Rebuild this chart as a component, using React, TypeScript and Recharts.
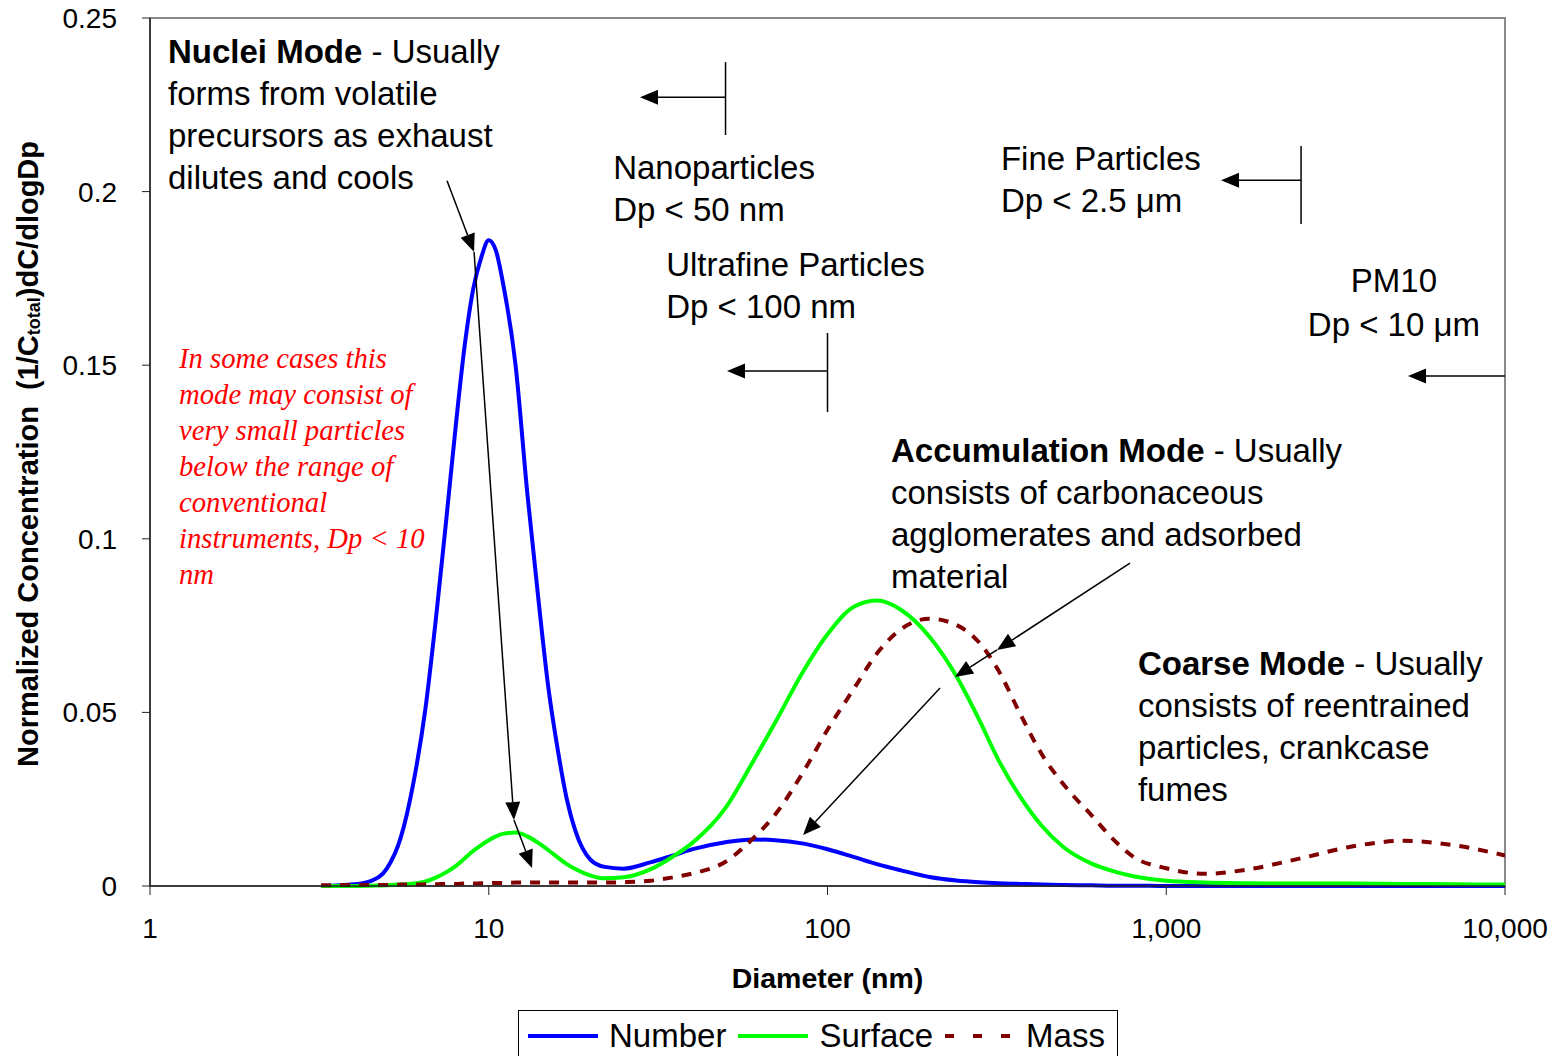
import React from 'react';
import { LineChart, Line, XAxis, YAxis, Legend, ReferenceLine, ReferenceDot, ReferenceArea } from 'recharts';

// diameters in nm
const diameters = [3.2, 4, 4.5, 5, 5.5, 6, 6.5, 7, 7.5, 8, 8.5, 9, 9.5, 10, 10.5, 11, 12, 13, 14, 15, 16, 17, 18, 20, 22, 25, 30, 35, 40, 50, 60, 70, 85, 100, 120, 140, 165, 200, 240, 280, 320, 370, 430, 500, 600, 700, 800, 1000, 1300, 1700, 2500, 3500, 5000, 7000, 10000];
const numberConc = [0, 0.0005, 0.0015, 0.005, 0.014, 0.03, 0.051, 0.078, 0.106, 0.133, 0.156, 0.172, 0.181, 0.186, 0.183, 0.174, 0.15, 0.113, 0.083, 0.057, 0.039, 0.025, 0.016, 0.0075, 0.0055, 0.005, 0.0068, 0.0088, 0.0106, 0.0126, 0.0134, 0.0132, 0.0122, 0.0106, 0.0083, 0.0063, 0.0045, 0.0026, 0.0016, 0.0011, 0.0008, 0.0006, 0.0004, 0.0003, 0.0002, 0.0001, 0.0001, 0, 0, 0, 0, 0, 0, 0, 0];
const surfaceConc = [0, 0, 0.0001, 0.0002, 0.0004, 0.0007, 0.0013, 0.0025, 0.004, 0.0058, 0.008, 0.0101, 0.0118, 0.0132, 0.0143, 0.015, 0.0154, 0.0143, 0.0124, 0.0103, 0.0082, 0.0063, 0.0049, 0.003, 0.0022, 0.0025, 0.0048, 0.0085, 0.0125, 0.0225, 0.0355, 0.047, 0.062, 0.0725, 0.0805, 0.0822, 0.0795, 0.0718, 0.0605, 0.048, 0.0362, 0.0258, 0.0172, 0.011, 0.0065, 0.0042, 0.0028, 0.0015, 0.001, 0.0008, 0.0007, 0.0007, 0.0006, 0.0005, 0.0004];
const massConc = [0.0002, 0.0003, 0.0003, 0.0003, 0.0004, 0.0004, 0.0005, 0.0005, 0.0006, 0.0006, 0.0007, 0.0007, 0.0008, 0.0008, 0.0009, 0.0009, 0.001, 0.001, 0.001, 0.001, 0.001, 0.001, 0.001, 0.001, 0.001, 0.0011, 0.0015, 0.0025, 0.0036, 0.007, 0.0135, 0.0205, 0.033, 0.045, 0.057, 0.067, 0.074, 0.077, 0.0752, 0.0702, 0.062, 0.0497, 0.0378, 0.029, 0.0205, 0.0133, 0.0084, 0.0051, 0.0035, 0.0046, 0.008, 0.0113, 0.013, 0.0118, 0.0088];

const xTicks = [1, 10, 100, 1000, 10000];
const yTicks = [0, 0.05, 0.1, 0.15, 0.2, 0.25];

const series = [
  { key: 'number', name: 'Number', color: '#0000FF', dash: undefined, legendDash: undefined },
  { key: 'surface', name: 'Surface', color: '#00FF00', dash: undefined, legendDash: undefined },
  { key: 'mass', name: 'Mass', color: '#800000', dash: '10 9', legendDash: '9 19' },
];

// text notes, anchored in data coordinates (first-line baseline)
const notes = [
  { x: 1.13, y: 0.237, bold: 'Nuclei Mode', lines: [' - Usually', 'forms from volatile', 'precursors as exhaust', 'dilutes and cools'], red: false, middle: false },
  { x: 1.218, y: 0.1492, bold: '', lines: ['In some cases this', 'mode may consist of', 'very small particles', 'below the range of', 'conventional', 'instruments, Dp < 10', 'nm'], red: true, middle: false },
  { x: 23.3, y: 0.2036, bold: '', lines: ['Nanoparticles', 'Dp < 50 nm'], red: false, middle: false },
  { x: 33.4, y: 0.1757, bold: '', lines: ['Ultrafine Particles', 'Dp < 100 nm'], red: false, middle: false },
  { x: 325, y: 0.2062, bold: '', lines: ['Fine Particles', 'Dp < 2.5 \u03bcm'], red: false, middle: false },
  { x: 4700, y: 0.1711, bold: '', lines: ['PM10', 'Dp < 10 \u03bcm'], red: false, middle: true },
  { x: 154, y: 0.1221, bold: 'Accumulation Mode', lines: [' - Usually', 'consists of carbonaceous', 'agglomerates and adsorbed', 'material'], red: false, middle: false },
  { x: 825, y: 0.0608, bold: 'Coarse Mode', lines: [' - Usually', 'consists of reentrained', 'particles, crankcase', 'fumes'], red: false, middle: false },
];

// arrows: [x1, y1, x2, y2], head at the second point
const arrows = [
  [7.53, 0.2031, 9.05, 0.1826],
  [9.05, 0.1826, 11.87, 0.019],
  [11.87, 0.019, 13.42, 0.0052],
  [50, 0.2272, 27.96, 0.2272],
  [100, 0.1483, 50.5, 0.1483],
  [2500, 0.2033, 1451, 0.2033],
  [10000, 0.1469, 5172, 0.1469],
  [781.6, 0.093, 316.5, 0.068],
  [316.5, 0.068, 237.9, 0.0602],
  [214.9, 0.057, 84.7, 0.0147],
];

// vertical size-limit markers
const limits = [
  [50, 0.2373, 0.2163],
  [100, 0.1593, 0.1365],
  [2500, 0.2131, 0.1907],
];

const data = diameters.map((d, i) => ({
  d,
  number: numberConc[i],
  surface: surfaceConc[i],
  mass: massConc[i],
}));

const SANS = '"Liberation Sans", Arial, sans-serif';
const SERIF = '"Liberation Serif", "Times New Roman", serif';

const Arrow = (p: any) => {
  const { x1, y1, x2, y2 } = p;
  const a = Math.atan2(y2 - y1, x2 - x1);
  const L = 18;
  const W = 7.5;
  const bx = x2 - L * Math.cos(a);
  const by = y2 - L * Math.sin(a);
  const nx = -Math.sin(a) * W;
  const ny = Math.cos(a) * W;
  return (
    <g>
      <line x1={x1} y1={y1} x2={bx} y2={by} stroke="#000" strokeWidth={1.5} />
      <polygon points={`${x2},${y2} ${bx + nx},${by + ny} ${bx - nx},${by - ny}`} fill="#000" />
    </g>
  );
};

const Note = ({ cx, cy, note }: any) => {
  const size = note.red ? 28.7 : 33;
  const step = note.red ? 36 : note.middle ? 44 : 42;
  const x = cx;
  return (
    <text
      x={x}
      y={cy}
      fontFamily={note.red ? SERIF : SANS}
      fontStyle={note.red ? 'italic' : 'normal'}
      fontSize={size}
      fill={note.red ? '#FF0000' : '#000'}
      textAnchor={note.middle ? 'middle' : 'start'}
      style={{ whiteSpace: 'pre' }}
    >
      {note.lines.map((ln: string, i: number) => (
        <tspan key={i} x={x} dy={i === 0 ? 0 : step}>
          {i === 0 && note.bold ? <tspan fontWeight="bold">{note.bold}</tspan> : null}
          {ln}
        </tspan>
      ))}
    </text>
  );
};

const YTitle = ({ viewBox }: any) => {
  const cx = viewBox.x + 28;
  const cy = viewBox.y + viewBox.height / 2 + 2;
  return (
    <text
      x={cx}
      y={cy}
      transform={`rotate(-90 ${cx} ${cy})`}
      textAnchor="middle"
      dominantBaseline="central"
      fontFamily={SANS}
      fontWeight="bold"
      fontSize={29}
      style={{ whiteSpace: 'pre' }}
    >
      {'Normalized Concentration  (1/C'}
      <tspan fontSize={18} dy={6}>total</tspan>
      <tspan dy={-6}>)dC/dlogDp</tspan>
    </text>
  );
};

const XTitle = ({ viewBox }: any) => (
  <text
    x={viewBox.x + viewBox.width / 2}
    y={viewBox.y + 102}
    textAnchor="middle"
    fontFamily={SANS}
    fontWeight="bold"
    fontSize={28.5}
  >
    Diameter (nm)
  </text>
);

const LegendBox = () => (
  <div
    style={{
      display: 'flex',
      alignItems: 'center',
      height: 46,
      boxSizing: 'border-box',
      border: '1px solid #000',
      borderBottom: 'none',
      paddingLeft: 9,
      paddingTop: 4,
      fontFamily: SANS,
      fontSize: 33,
      color: '#000',
    }}
  >
    {series.map((s) => (
      <div key={s.key} style={{ display: 'flex', alignItems: 'center', marginRight: 12 }}>
        <svg width={70} height={10}>
          <line x1={0} y1={5} x2={70} y2={5} stroke={s.color} strokeWidth={4} strokeDasharray={s.legendDash} />
        </svg>
        <span style={{ marginLeft: 11 }}>{s.name}</span>
      </div>
    ))}
  </div>
);

export default function App() {
  return (
    <div style={{ position: 'absolute', left: 0, top: 0, background: '#fff' }}>
      <LineChart width={1554} height={1056} data={data} margin={{ top: 18, right: 49, left: 0, bottom: 0 }}>
        <ReferenceArea x1={1} x2={10000} y1={0} y2={0.25} fill="none" stroke="#8a8a8a" strokeWidth={2} ifOverflow="visible" />
        <XAxis
          dataKey="d"
          type="number"
          scale="log"
          domain={[1, 10000]}
          ticks={xTicks}
          allowDataOverflow
          height={124}
          tickSize={9}
          tickMargin={23}
          tickFormatter={(v: number) => v.toLocaleString('en-US')}
          tick={{ fontFamily: SANS, fontSize: 28, fill: '#000' }}
          axisLine={{ stroke: '#222', strokeWidth: 1.5 }}
          tickLine={{ stroke: '#222' }}
          label={{ content: XTitle }}
        />
        <YAxis
          type="number"
          domain={[0, 0.25]}
          ticks={yTicks}
          width={150}
          tickSize={8}
          tickMargin={25}
          tick={{ fontFamily: SANS, fontSize: 28, fill: '#000' }}
          axisLine={{ stroke: '#222', strokeWidth: 1.5 }}
          tickLine={{ stroke: '#222' }}
          label={{ content: YTitle }}
        />
        <Legend verticalAlign="bottom" wrapperStyle={{ left: 518, width: 600 }} content={LegendBox} />
        {series.map((s) => (
          <Line
            key={s.key}
            dataKey={s.key}
            name={s.name}
            type="monotone"
            stroke={s.color}
            strokeWidth={4}
            strokeDasharray={s.dash}
            dot={false}
            activeDot={false}
            isAnimationActive={false}
          />
        ))}
        {limits.map(([x, ya, yb], i) => (
          <ReferenceLine key={`l${i}`} segment={[{ x, y: ya }, { x, y: yb }]} stroke="#000" strokeWidth={1.5} ifOverflow="visible" />
        ))}
        {arrows.map(([x1, y1, x2, y2], i) => (
          <ReferenceLine
            key={`a${i}`}
            segment={[{ x: x1, y: y1 }, { x: x2, y: y2 }]}
            ifOverflow="visible"
            shape={(p: any) => <Arrow {...p} />}
          />
        ))}
        {notes.map((n, i) => (
          <ReferenceDot
            key={`n${i}`}
            x={n.x}
            y={n.y}
            r={1}
            ifOverflow="visible"
            shape={(p: any) => <Note cx={p.cx} cy={p.cy} note={n} />}
          />
        ))}
      </LineChart>
    </div>
  );
}
